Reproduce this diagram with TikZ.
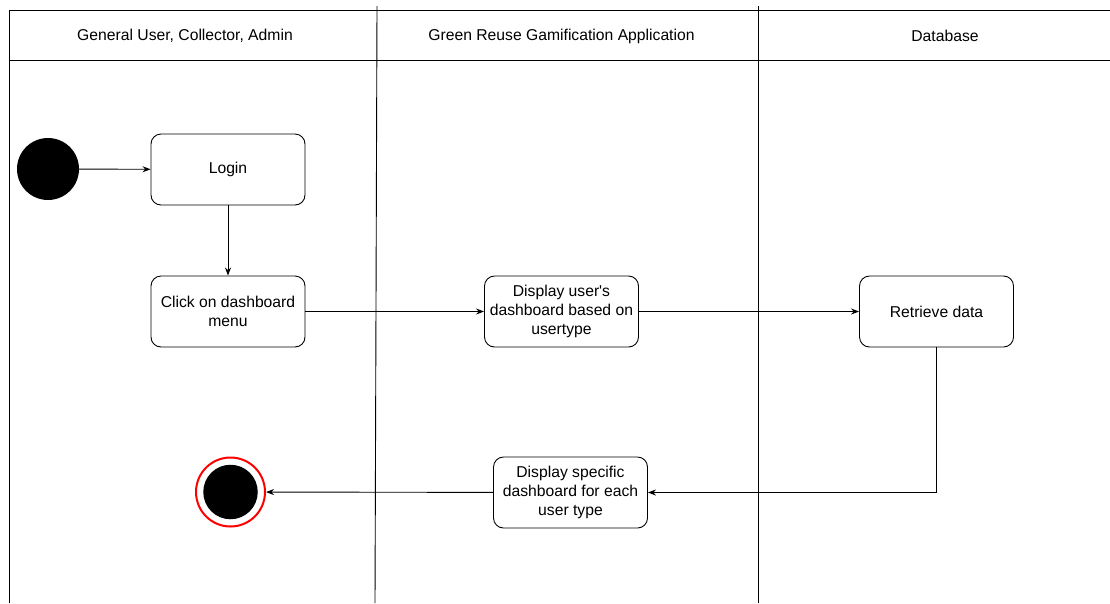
\documentclass[tikz,border=0pt]{standalone}
\usepackage{fontspec}
\setmainfont{Liberation Sans}
\usetikzlibrary{arrows.meta}
\begin{document}
\begin{tikzpicture}[x=1pt,y=-1pt,
  lane/.style={line width=0.9pt},
  txt/.style={font=\fontsize{15.7}{19}\selectfont},
  action/.style={txt, draw, rounded corners=10pt, minimum width=154pt,
    minimum height=71pt, align=center, line width=0.9pt, inner sep=2pt},
  flow/.style={-{Stealth[length=8pt,width=6pt]}, line width=0.9pt}]
\useasboundingbox (0,0) rectangle (1110,603);

% swimlane frame
\draw[lane] (9,10) -- (1110,10);
\draw[lane] (9,60) -- (1110,60);
\draw[lane] (9,10) -- (9,603);
\draw[lane] (377,6) -- (375,603);
\draw[lane] (758,6) -- (758,603);

% lane titles
\node[txt] (laneA) at (185,36) {General User, Collector, Admin};
\node[txt] (laneB) at (561.5,36) {Green Reuse Gamification Application};
\node[txt] (laneC) at (945,36) {Database};

% initial and final states
\node[circle, fill=black, minimum size=62pt, inner sep=0pt] (start) at (48,169) {};
\node[circle, draw=red, line width=2pt, fill=white, minimum size=69pt, inner sep=0pt] (end) at (230.5,492) {};
\node[circle, fill=black, minimum size=54.5pt, inner sep=0pt] (endcore) at (230.5,492) {};

% actions
\node[action] (login) at (228,169.5) {Login};
\node[action] (click) at (228,311.5) {Click on dashboard\\menu};
\node[action] (disp)  at (561.5,311.5) {Display user\textquotesingle s\\dashboard based on\\usertype};
\node[action] (retr)  at (936.5,311.5) {Retrieve data};
\node[action] (spec)  at (570.5,492.5) {Display specific\\dashboard for each\\user type};

% control flow
\draw[flow] (start) -- (login);
\draw[flow] (login) -- (click);
\draw[flow] (click) -- (disp);
\draw[flow] (disp) -- (retr);
\draw[flow] (retr.south) |- (spec.east);
\draw[flow] (spec) -- (end);
\end{tikzpicture}
\end{document}
